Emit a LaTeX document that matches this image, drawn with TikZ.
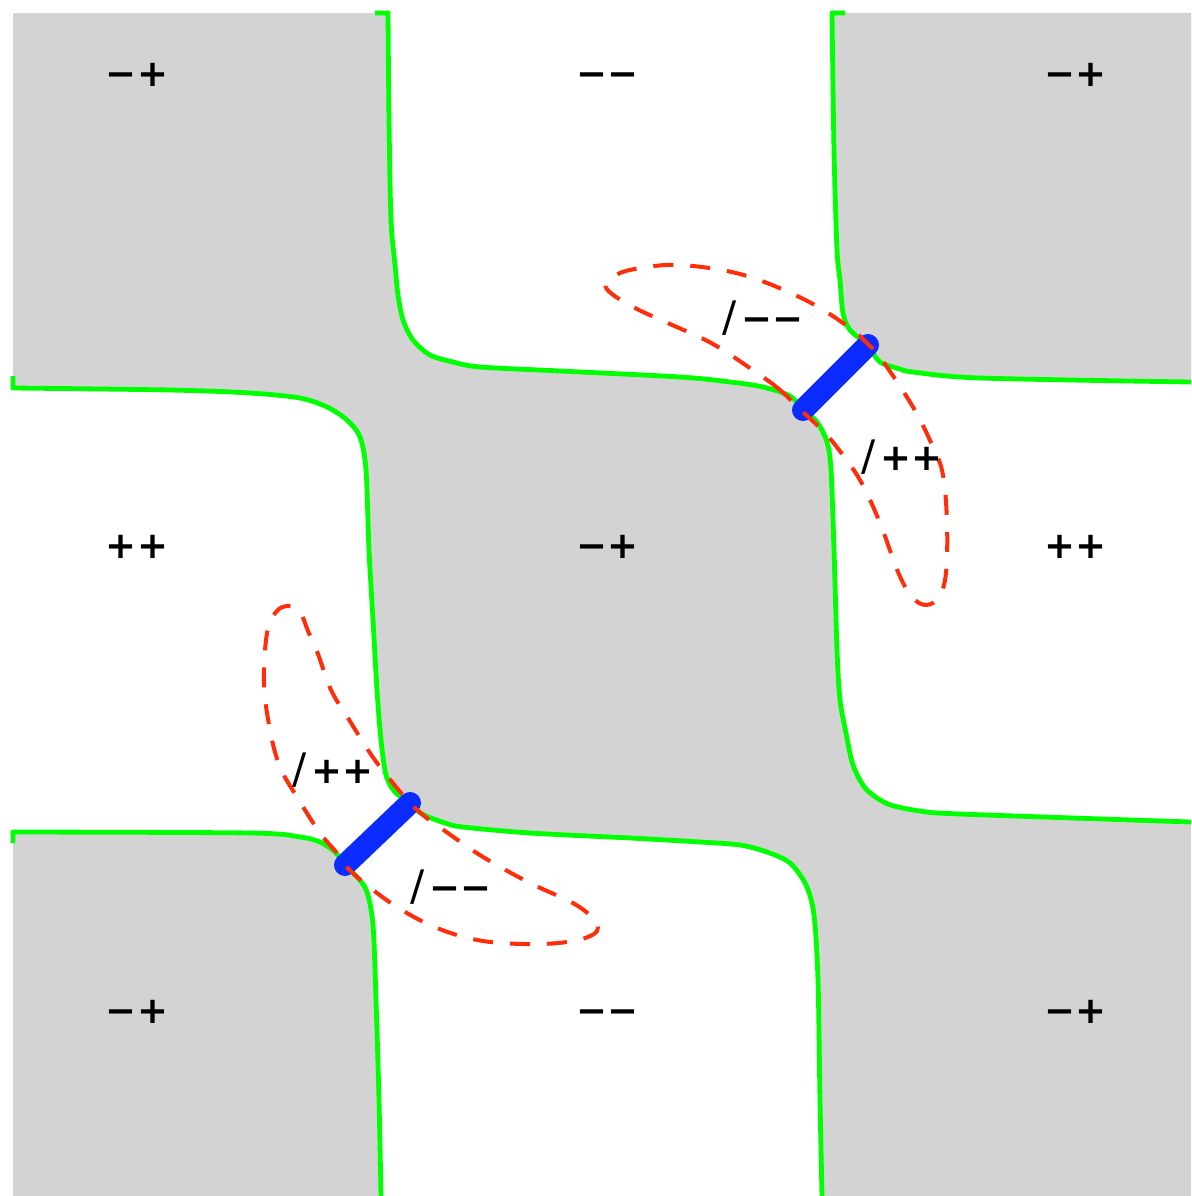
\documentclass[tikz,border=0pt]{standalone}
\usepackage{fontspec}
\newfontfamily\labfont{DejaVu Sans}
\definecolor{regiongray}{RGB}{211,211,211}
\definecolor{contourgreen}{RGB}{0,255,0}
\definecolor{barblue}{RGB}{12,44,255}
\definecolor{loopred}{RGB}{255,45,10}
\newcommand{\slashmark}{{\mdseries\fontsize{42}{42}\selectfont /}\hspace{5pt}}
\tikzset{
  contour/.style={draw=contourgreen, line width=4.8pt, line join=round},
  barline/.style={draw=barblue, line width=22pt, line cap=round},
  loopline/.style={draw=loopred, line width=4pt, dash pattern=on 20pt off 17pt},
  lab/.style={anchor=base, inner sep=0pt, font=\labfont\bfseries\fontsize{37}{40}\selectfont},
}
\begin{document}
\begin{tikzpicture}[x=1pt,y=-1pt]
\useasboundingbox (0,0) rectangle (1191,1196);
% regions
\fill[regiongray] (13,13) rectangle (1191,1196);
\fill[white] (388,13) -- plot[smooth,tension=0.5] coordinates {(388,13) (389,120) (391,220) (395,265) (398,295) (403,320) (413,340) (430,355) (453,362) (480,367) (560,371) (680,377) (730,382) (763,387) (790,396) (803,410)}
  -- plot[smooth,tension=0.5] coordinates {(803,410) (817,422) (827,442) (831,470) (834,550) (837,650) (840,700) (846,733) (853,765) (866,789) (888,804) (920,811) (960,814) (1191,822)}
  -- (1191,13) -- cycle;
\fill[regiongray] (832,13) -- plot[smooth,tension=0.5] coordinates {(832,13) (834,150) (837,250) (840,280) (843,313) (850,330) (868,345)}
  -- plot[smooth,tension=0.5] coordinates {(868,345) (880,362) (900,369) (913,372) (980,378) (1191,382)}
  -- (1191,13) -- cycle;
\fill[white] (13,388) -- plot[smooth,tension=0.5] coordinates {(13,388) (170,390) (250,393) (300,398) (327,407) (347,420) (360,437) (366,470) (369,550) (373,620) (377,690) (381,740) (386,775) (395,792) (410,803)}
  -- plot[smooth,tension=0.5] coordinates {(410,803) (422,814) (445,823) (463,827) (530,833) (630,838) (700,842) (740,845) (767,852) (790,863) (806,885) (814,915) (818,980) (820,1100) (822,1196)}
  -- (13,1196) -- cycle;
\fill[regiongray] (13,832) -- plot[smooth,tension=0.5] coordinates {(13,832) (250,833) (300,837) (320,842) (335,852) (345,865)}
  -- plot[smooth,tension=0.5] coordinates {(345,865) (358,878) (367,892) (373,925) (376,1000) (379,1100) (381,1196)}
  -- (13,1196) -- cycle;
% contours
\draw[contour] (375,13) -- (388,13) -- plot[smooth,tension=0.5] coordinates {(388,13) (389,120) (391,220) (395,265) (398,295) (403,320) (413,340) (430,355) (453,362) (480,367) (560,371) (680,377) (730,382) (763,387) (790,396) (803,410)}
  -- plot[smooth,tension=0.5] coordinates {(803,410) (817,422) (827,442) (831,470) (834,550) (837,650) (840,700) (846,733) (853,765) (866,789) (888,804) (920,811) (960,814) (1191,822)};
\draw[contour] (845,13) -- (832,13) -- plot[smooth,tension=0.5] coordinates {(832,13) (834,150) (837,250) (840,280) (843,313) (850,330) (868,345)}
  -- plot[smooth,tension=0.5] coordinates {(868,345) (880,362) (900,369) (913,372) (980,378) (1191,382)};
\draw[contour] (13,376) -- (13,388) -- plot[smooth,tension=0.5] coordinates {(13,388) (170,390) (250,393) (300,398) (327,407) (347,420) (360,437) (366,470) (369,550) (373,620) (377,690) (381,740) (386,775) (395,792) (410,803)}
  -- plot[smooth,tension=0.5] coordinates {(410,803) (422,814) (445,823) (463,827) (530,833) (630,838) (700,842) (740,845) (767,852) (790,863) (806,885) (814,915) (818,980) (820,1100) (822,1196)};
\draw[contour] (13,843) -- (13,832) -- plot[smooth,tension=0.5] coordinates {(13,832) (250,833) (300,837) (320,842) (335,852) (345,865)}
  -- plot[smooth,tension=0.5] coordinates {(345,865) (358,878) (367,892) (373,925) (376,1000) (379,1100) (381,1196)};
% bars
\coordinate (b1a) at (803,410);
\coordinate (b1b) at (868,345);
\coordinate (b2a) at (345,865);
\coordinate (b2b) at (410,803);
\draw[barline] (b1a) -- (b1b);
\draw[barline] (b2a) -- (b2b);
% loops
\draw[loopline] plot[smooth cycle,tension=0.6] coordinates {(803,412) (780,390) (757,373) (713,344) (670,324) (637,309) (612,294) (606,284) (620,273) (647,267) (680,265) (727,271) (767,283) (813,304) (850,328) (868,344) (882,360) (913,407) (933,447) (943,475) (947,523) (946,573) (939,597) (926,605) (912,597) (898,572) (880,523) (860,480) (836,446) (820,428)};
\draw[loopline] plot[smooth cycle,tension=0.6] coordinates {(345,865) (337,853) (320,833) (297,797) (280,767) (270,730) (264,683) (267,633) (276,612) (288,606) (300,612) (308,631) (318,654) (331,690) (348,718) (370,753) (388,777) (410,803) (428,819) (445,831) (483,857) (530,883) (578,906) (598,927) (582,939) (540,944) (483,941) (437,928) (397,907) (363,882)};
% labels
\node[lab] (tl) at (137,87) {−+};
\node[lab] (tc) at (607,87) {−−};
\node[lab] (tr) at (1075,87) {−+};
\node[lab] (ml) at (137,558) {++};
\node[lab] (mc) at (607,558) {−+};
\node[lab] (mr) at (1075,558) {++};
\node[lab] (bl) at (137,1023) {−+};
\node[lab] (bc) at (607,1023) {−−};
\node[lab] (br) at (1075,1023) {−+};
\node[lab] (s1) at (763,331) {\slashmark −−};
\node[lab] (s2) at (902,470) {\slashmark ++};
\node[lab] (s3) at (333,783) {\slashmark ++};
\node[lab] (s4) at (451,900) {\slashmark −−};
\end{tikzpicture}
\end{document}
